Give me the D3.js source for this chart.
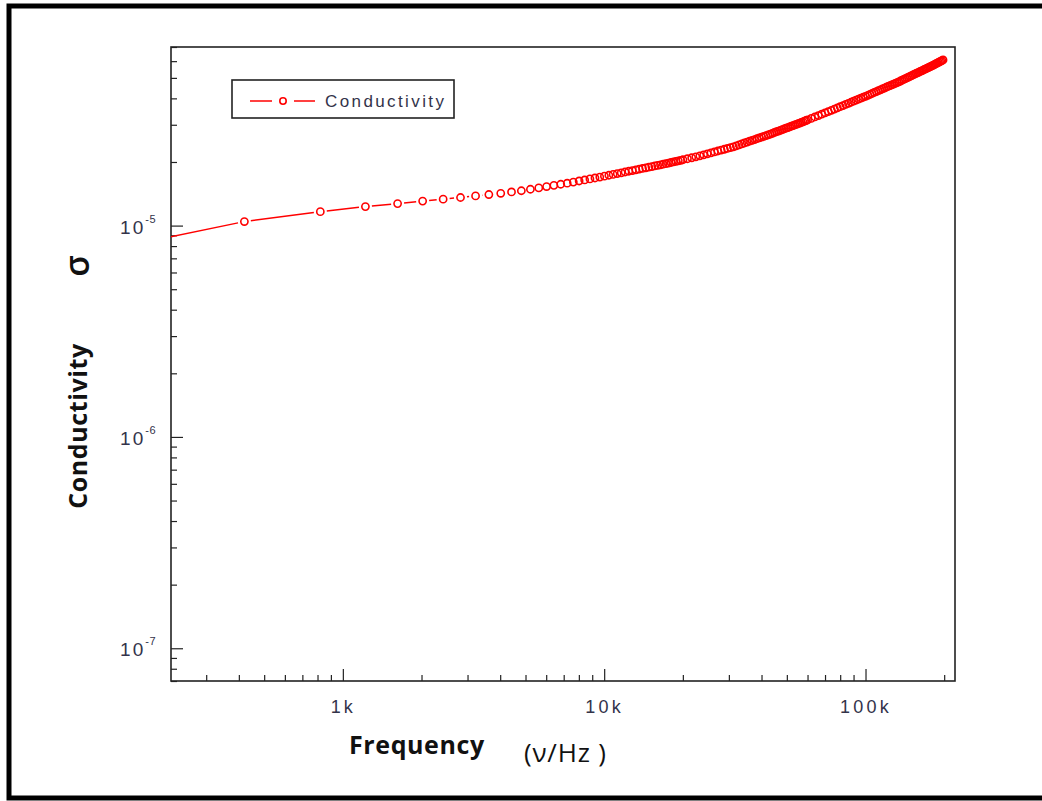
<!DOCTYPE html>
<html>
<head>
<meta charset="utf-8">
<script src="https://cdn.jsdelivr.net/npm/d3@7"></script>
<style>
    body { margin: 0; background: #fff; }
    svg { display: block; }
    .tick-label { font-family: "Liberation Sans", Arial, sans-serif; font-size: 18px; fill: #33334a; letter-spacing: 3.2px; }
    .axis-title { font-family: "Open Sans", sans-serif; font-weight: 700; font-size: 25px; fill: #111; letter-spacing: 0.6px; }
    .legend-text { font-family: "Liberation Sans", Arial, sans-serif; font-size: 17px; fill: #33334a; letter-spacing: 2.4px; }
</style>
</head>
<body>
<div id="chart"></div>
<script>
//////////////////////////////////////////////////////////////
//////////////////////// Data ////////////////////////////////
//////////////////////////////////////////////////////////////

//Frequency in Hz
const frequency = [20,
    420, 820, 1220, 1620, 2020, 2420, 2820, 3220, 3620, 4020, 4420, 4820, 5220, 5620, 6020, 6420, 6820, 7220, 7620, 8020,
    8420, 8820, 9220, 9620, 10020, 10420, 10820, 11220, 11620, 12020, 12420, 12820, 13220, 13620, 14020, 14420, 14820, 15220, 15620, 16020,
    16420, 16820, 17220, 17620, 18020, 18420, 18820, 19220, 19620, 20020,
    20820, 21620, 22420, 23220, 24020, 24820, 25620, 26420, 27220, 28020, 28820, 29620, 30420, 31220, 32020, 32820, 33620, 34420, 35220, 36020,
    36820, 37620, 38420, 39220, 40020, 40820, 41620, 42420, 43220, 44020, 44820, 45620, 46420, 47220, 48020, 48820, 49620, 50420, 51220, 52020,
    52820, 53620, 54420, 55220, 56020, 56820, 57620, 58420, 59220, 60020,
    62020, 64020, 66020, 68020, 70020, 72020, 74020, 76020, 78020, 80020, 82020, 84020, 86020, 88020, 90020, 92020, 94020, 96020, 98020, 100020,
    102020, 104020, 106020, 108020, 110020, 112020, 114020, 116020, 118020, 120020, 122020, 124020, 126020, 128020, 130020, 132020, 134020, 136020, 138020, 140020,
    142020, 144020, 146020, 148020, 150020, 152020, 154020, 156020, 158020, 160020, 162020, 164020, 166020, 168020, 170020, 172020, 174020, 176020, 178020, 180020,
    182020, 184020, 186020, 188020, 190020, 192020, 194020, 196020, 198020]

//Conductivity sigma
const conductivity = [4.78e-6,
    1.045e-5, 1.164e-5, 1.230e-5, 1.271e-5, 1.306e-5, 1.334e-5, 1.358e-5, 1.382e-5, 1.403e-5, 1.422e-5, 1.443e-5, 1.462e-5, 1.486e-5, 1.508e-5, 1.530e-5, 1.550e-5, 1.569e-5, 1.587e-5, 1.606e-5, 1.626e-5,
    1.644e-5, 1.663e-5, 1.680e-5, 1.697e-5, 1.714e-5, 1.731e-5, 1.747e-5, 1.763e-5, 1.778e-5, 1.793e-5, 1.808e-5, 1.822e-5, 1.836e-5, 1.850e-5, 1.864e-5, 1.877e-5, 1.890e-5, 1.903e-5, 1.916e-5, 1.928e-5,
    1.940e-5, 1.952e-5, 1.963e-5, 1.976e-5, 1.989e-5, 2.001e-5, 2.013e-5, 2.025e-5, 2.037e-5, 2.049e-5,
    2.072e-5, 2.094e-5, 2.116e-5, 2.138e-5, 2.162e-5, 2.186e-5, 2.209e-5, 2.231e-5, 2.254e-5, 2.276e-5, 2.297e-5, 2.318e-5, 2.339e-5, 2.360e-5, 2.386e-5, 2.411e-5, 2.435e-5, 2.460e-5, 2.484e-5, 2.508e-5,
    2.531e-5, 2.554e-5, 2.577e-5, 2.599e-5, 2.622e-5, 2.644e-5, 2.665e-5, 2.689e-5, 2.712e-5, 2.734e-5, 2.758e-5, 2.780e-5, 2.802e-5, 2.825e-5, 2.846e-5, 2.868e-5, 2.890e-5, 2.911e-5, 2.932e-5, 2.953e-5,
    2.974e-5, 2.995e-5, 3.015e-5, 3.035e-5, 3.056e-5, 3.078e-5, 3.099e-5, 3.121e-5, 3.142e-5, 3.163e-5,
    3.215e-5, 3.266e-5, 3.317e-5, 3.366e-5, 3.416e-5, 3.465e-5, 3.512e-5, 3.559e-5, 3.606e-5, 3.653e-5, 3.699e-5, 3.745e-5, 3.790e-5, 3.834e-5, 3.878e-5, 3.922e-5, 3.964e-5, 4.007e-5, 4.049e-5, 4.091e-5,
    4.135e-5, 4.179e-5, 4.223e-5, 4.265e-5, 4.308e-5, 4.350e-5, 4.391e-5, 4.433e-5, 4.474e-5, 4.515e-5, 4.555e-5, 4.595e-5, 4.636e-5, 4.675e-5, 4.714e-5, 4.753e-5, 4.792e-5, 4.832e-5, 4.875e-5, 4.916e-5,
    4.958e-5, 5.000e-5, 5.041e-5, 5.082e-5, 5.123e-5, 5.163e-5, 5.204e-5, 5.244e-5, 5.284e-5, 5.323e-5, 5.364e-5, 5.402e-5, 5.442e-5, 5.481e-5, 5.519e-5, 5.557e-5, 5.596e-5, 5.633e-5, 5.672e-5, 5.710e-5,
    5.751e-5, 5.794e-5, 5.834e-5, 5.875e-5, 5.916e-5, 5.957e-5, 5.998e-5, 6.039e-5, 6.080e-5]

//Axes
const xDomain = [220, 220000]
const yDomain = [7e-8, 7e-5]
const xMajorTicks = [1000, 10000, 100000]
const xTickLabels = ["1k", "10k", "100k"]
const yMajorTicks = [1e-7, 1e-6, 1e-5]
const yTickExponents = ["-7", "-6", "-5"]

const seriesName = "Conductivity"
const xTitle = "Frequency"
const xUnit = "(ν/Hz )"
const yTitle = "Conductivity"
const ySymbol = "σ"

const red = "#ff0000"
const markerRadius = 3.6
const lineGap = 6.5 //gap between line and symbol, in pixels

//////////////////////////////////////////////////////////////
//////////////////////// Create SVG //////////////////////////
//////////////////////////////////////////////////////////////

const width = 1042
const height = 801
const plot = { left: 171, right: 955, top: 47, bottom: 681 }

const svg = d3.select("#chart").append("svg")
    .attr("width", width)
    .attr("height", height)

//Outer black border (runs off the right side)
svg.append("rect")
    .attr("x", 9)
    .attr("y", 6)
    .attr("width", 1045)
    .attr("height", 792)
    .style("fill", "none")
    .style("stroke", "#000")
    .style("stroke-width", 5)

//////////////////////////////////////////////////////////////
////////////////////// Create scales /////////////////////////
//////////////////////////////////////////////////////////////

const xScale = d3.scaleLog()
    .domain(xDomain)
    .range([plot.left, plot.right])

const yScale = d3.scaleLog()
    .domain(yDomain)
    .range([plot.bottom, plot.top])

//////////////////////////////////////////////////////////////
/////////////////////// Draw axes ////////////////////////////
//////////////////////////////////////////////////////////////

const xMinorTicks = xScale.ticks().filter(d => !xMajorTicks.includes(d))
const yMinorTicks = yScale.ticks().filter(d => !yMajorTicks.some(m => Math.abs(m - d) / m < 1e-6))

function styleAxis(g) {
    g.select(".domain").remove()
    g.selectAll(".tick line").style("stroke", "#222").style("stroke-width", 1.2)
    g.selectAll(".tick text").remove()
}

svg.append("g")
    .attr("transform", "translate(0," + plot.bottom + ")")
    .call(d3.axisBottom(xScale).tickValues(xMinorTicks).tickSize(-6))
    .call(styleAxis)

svg.append("g")
    .attr("transform", "translate(0," + plot.bottom + ")")
    .call(d3.axisBottom(xScale).tickValues(xMajorTicks).tickSize(-12))
    .call(styleAxis)

svg.append("g")
    .attr("transform", "translate(" + plot.left + ",0)")
    .call(d3.axisLeft(yScale).tickValues(yMinorTicks).tickSize(-6))
    .call(styleAxis)

svg.append("g")
    .attr("transform", "translate(" + plot.left + ",0)")
    .call(d3.axisLeft(yScale).tickValues(yMajorTicks).tickSize(-12))
    .call(styleAxis)

//Frame
svg.append("rect")
    .attr("x", plot.left)
    .attr("y", plot.top)
    .attr("width", plot.right - plot.left)
    .attr("height", plot.bottom - plot.top)
    .style("fill", "none")
    .style("stroke", "#222")
    .style("stroke-width", 1.6)

//Tick labels
svg.selectAll(".x-label")
    .data(xMajorTicks)
    .enter().append("text")
    .attr("class", "tick-label x-label")
    .attr("x", d => xScale(d) + 0.5)
    .attr("y", 713)
    .attr("text-anchor", "middle")
    .text((d, i) => xTickLabels[i])

const yLabels = svg.selectAll(".y-label")
    .data(yMajorTicks)
    .enter().append("text")
    .attr("class", "tick-label y-label")
    .attr("x", 156)
    .attr("y", d => yScale(d) + 8)
    .attr("text-anchor", "end")

yLabels.append("tspan").text("10").style("letter-spacing", "2px").style("font-size", "19px")
yLabels.append("tspan")
    .attr("dy", -11)
    .style("font-size", "11px")
    .style("letter-spacing", "0.5px")
    .text((d, i) => yTickExponents[i])

//Axis titles
svg.append("text")
    .attr("class", "axis-title")
    .attr("x", 349)
    .attr("y", 754)
    .text(xTitle)

svg.append("text")
    .attr("x", 524)
    .attr("y", 762)
    .style("font-family", "'Open Sans', sans-serif")
    .style("font-size", "26px")
    .style("fill", "#111")
    .style("letter-spacing", "0.8px")
    .text(xUnit)

svg.append("text")
    .attr("class", "axis-title")
    .attr("transform", "translate(87,426) rotate(-90)")
    .attr("text-anchor", "middle")
    .text(yTitle)

svg.append("text")
    .attr("transform", "translate(89,266) rotate(-90)")
    .attr("text-anchor", "middle")
    .style("font-family", "'Open Sans', sans-serif")
    .style("font-weight", 600)
    .style("font-size", "34px")
    .style("fill", "#111")
    .text(ySymbol)

//////////////////////////////////////////////////////////////
//////////////////////// Draw data ///////////////////////////
//////////////////////////////////////////////////////////////

const data = frequency.map((f, i) => ({ f: f, s: conductivity[i] }))

svg.append("defs").append("clipPath")
    .attr("id", "clip-plot")
    .append("rect")
    .attr("x", plot.left)
    .attr("y", plot.top)
    .attr("width", plot.right - plot.left)
    .attr("height", plot.bottom - plot.top)

const dataGroup = svg.append("g").attr("clip-path", "url(#clip-plot)")

//Line with a gap around each symbol (like Origin draws it)
const pts = data.map(d => [xScale(d.f), yScale(d.s)])
const linePath = d3.path()
for (let i = 0; i < pts.length - 1; i++) {
    const [x0, y0] = pts[i]
    const [x1, y1] = pts[i + 1]
    const len = Math.hypot(x1 - x0, y1 - y0)
    if (len <= 2 * lineGap) continue
    const ux = (x1 - x0) / len
    const uy = (y1 - y0) / len
    linePath.moveTo(x0 + ux * lineGap, y0 + uy * lineGap)
    linePath.lineTo(x1 - ux * lineGap, y1 - uy * lineGap)
}

dataGroup.append("path")
    .attr("d", linePath.toString())
    .style("fill", "none")
    .style("stroke", red)
    .style("stroke-width", 1.5)

dataGroup.selectAll(".marker")
    .data(data)
    .enter().append("circle")
    .attr("class", "marker")
    .attr("cx", d => xScale(d.f))
    .attr("cy", d => yScale(d.s))
    .attr("r", markerRadius)
    .style("fill", "none")
    .style("stroke", red)
    .style("stroke-width", 1.6)

//////////////////////////////////////////////////////////////
///////////////////////// Legend /////////////////////////////
//////////////////////////////////////////////////////////////

const legend = svg.append("g").attr("class", "legend")

legend.append("rect")
    .attr("x", 232)
    .attr("y", 80)
    .attr("width", 222)
    .attr("height", 38)
    .style("fill", "#fff")
    .style("stroke", "#222")
    .style("stroke-width", 1.6)

legend.selectAll(".legend-line")
    .data([[250, 272], [294, 315]])
    .enter().append("line")
    .attr("x1", d => d[0])
    .attr("x2", d => d[1])
    .attr("y1", 101)
    .attr("y2", 101)
    .style("stroke", red)
    .style("stroke-width", 1.5)

legend.append("circle")
    .attr("cx", 283)
    .attr("cy", 101)
    .attr("r", 3.2)
    .style("fill", "none")
    .style("stroke", red)
    .style("stroke-width", 1.6)

legend.append("text")
    .attr("class", "legend-text")
    .attr("x", 325)
    .attr("y", 107)
    .text(seriesName)
</script>
</body>
</html>
